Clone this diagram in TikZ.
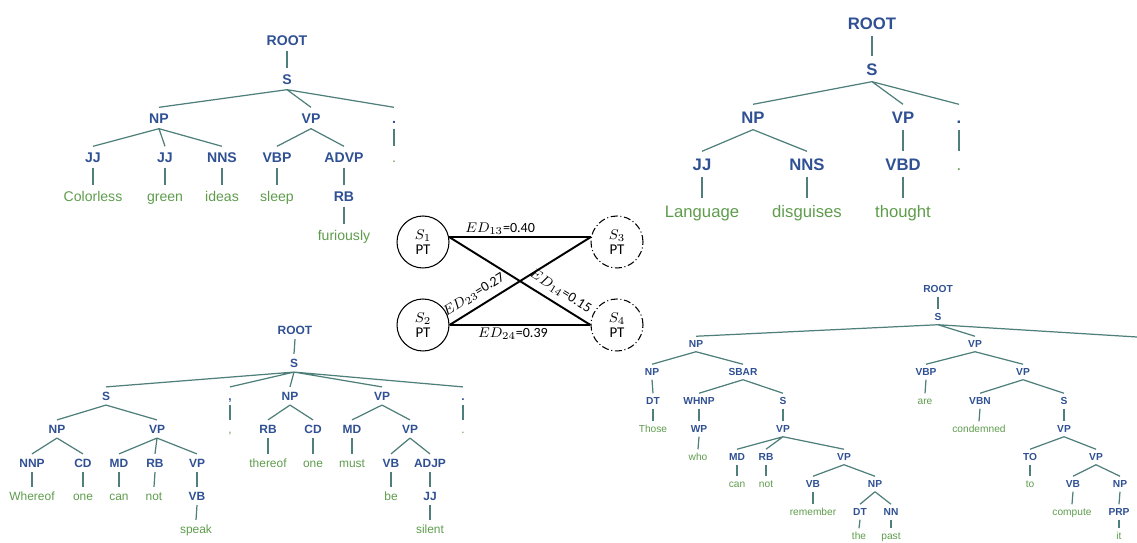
\documentclass[tikz,border=0pt]{standalone}
\usepackage{fontspec}
\setmainfont{Liberation Sans}
\newfontfamily\calfont{Carlito}
\definecolor{labblue}{HTML}{2F5093}
\definecolor{wordgreen}{HTML}{5E9C4C}
\definecolor{edgeteal}{HTML}{4F7F7B}
\def\tfs{8}

\begin{document}
\begin{tikzpicture}[
x=0.02cm, y=-0.02cm,
treenode/.style={
    inner sep=0pt, % No inner spacing
    text height={0.72*\tfs pt},
    text depth=0pt,
    outer sep={0.4*\tfs pt},
},
lab/.style={treenode, text=labblue, font=\bfseries\fontsize{\tfs}{\tfs}\selectfont},
wrd/.style={treenode, text=wordgreen, font=\fontsize{\tfs}{\tfs}\selectfont},
edge/.style={draw=edgeteal, line width=0.7pt},
ptnode/.style={
    circle,
    draw=black,
    line width=0.6pt,
    minimum size=1.04cm,
    inner sep=0pt,
    align=center,
    font=\calfont\fontsize{8.5}{8.5}\selectfont,
},
dashdot/.style={dash pattern=on 4pt off 1.5pt on 0.6pt off 1.5pt},
link/.style={black, line width=1.1pt},
edlabel/.style={font=\calfont\fontsize{8}{9}\selectfont, inner sep=1pt},
slopelabel/.style={edlabel, sloped, inner sep=3.5pt},
]
\useasboundingbox (0,0) rectangle (1137,543);

% top left tree
\def\tfs{8}
\node[lab] (tl-ROOT) at (287,40) {ROOT};
\node[lab] (tl-S) at (287,79) {S};
\node[lab] (tl-NP) at (159,118) {NP};
\node[lab] (tl-VP) at (311,118) {VP};
\node[lab] (tl-P) at (394,118) {.};
\node[lab] (tl-JJ1) at (93,157) {JJ};
\node[lab] (tl-JJ2) at (165,157) {JJ};
\node[lab] (tl-NNS) at (222,157) {NNS};
\node[lab] (tl-VBP) at (277,157) {VBP};
\node[lab] (tl-ADVP) at (344,157) {ADVP};
\node[wrd] (tl-w6) at (394,157) {.};
\node[wrd] (tl-w1) at (93,196) {Colorless};
\node[wrd] (tl-w2) at (165,196) {green};
\node[wrd] (tl-w3) at (222,196) {ideas};
\node[wrd] (tl-w4) at (277,196) {sleep};
\node[lab] (tl-RB) at (344,196) {RB};
\node[wrd] (tl-w5) at (344,235) {furiously};

\draw[edge] (tl-ROOT.south) -- (tl-S.north);
\draw[edge] (tl-S.south) -- (tl-NP.north) (tl-S.south) -- (tl-VP.north) (tl-S.south) -- (tl-P.north);
\draw[edge] (tl-NP.south) -- (tl-JJ1.north) (tl-NP.south) -- (tl-JJ2.north) (tl-NP.south) -- (tl-NNS.north);
\draw[edge] (tl-VP.south) -- (tl-VBP.north) (tl-VP.south) -- (tl-ADVP.north);
\draw[edge] (tl-P.south) -- (tl-w6.north);
\draw[edge] (tl-JJ1.south) -- (tl-w1.north);
\draw[edge] (tl-JJ2.south) -- (tl-w2.north);
\draw[edge] (tl-NNS.south) -- (tl-w3.north);
\draw[edge] (tl-VBP.south) -- (tl-w4.north);
\draw[edge] (tl-ADVP.south) -- (tl-RB.north);
\draw[edge] (tl-RB.south) -- (tl-w5.north);

% top right tree
\def\tfs{9.5}
\node[lab] (tr-ROOT) at (872,23) {ROOT};
\node[lab] (tr-S) at (872,69) {S};
\node[lab] (tr-NP) at (753,117) {NP};
\node[lab] (tr-VP) at (903,117) {VP};
\node[lab] (tr-P) at (959,117) {.};
\node[lab] (tr-JJ) at (702,164) {JJ};
\node[lab] (tr-NNS) at (807,164) {NNS};
\node[lab] (tr-VBD) at (903,164) {VBD};
\node[wrd] (tr-w4) at (959,164) {.};
\node[wrd] (tr-w1) at (702,211) {Language};
\node[wrd] (tr-w2) at (807,211) {disguises};
\node[wrd] (tr-w3) at (903,211) {thought};

\draw[edge] (tr-ROOT.south) -- (tr-S.north);
\draw[edge] (tr-S.south) -- (tr-NP.north) (tr-S.south) -- (tr-VP.north) (tr-S.south) -- (tr-P.north);
\draw[edge] (tr-NP.south) -- (tr-JJ.north) (tr-NP.south) -- (tr-NNS.north);
\draw[edge] (tr-VP.south) -- (tr-VBD.north);
\draw[edge] (tr-P.south) -- (tr-w4.north);
\draw[edge] (tr-JJ.south) -- (tr-w1.north);
\draw[edge] (tr-NNS.south) -- (tr-w2.north);
\draw[edge] (tr-VBD.south) -- (tr-w3.north);

% bottom left tree
\def\tfs{6.8}
\node[lab] (bl-ROOT) at (295,330) {ROOT};
\node[lab] (bl-S) at (294,363) {S};
\node[lab] (bl-S2) at (106,396) {S};
\node[lab] (bl-C) at (230,396) {,};
\node[lab] (bl-NP) at (290,396) {NP};
\node[lab] (bl-VP) at (382,396) {VP};
\node[lab] (bl-P) at (463,396) {.};
\node[lab] (bl-NP1) at (57,429) {NP};
\node[lab] (bl-VP1) at (157,429) {VP};
\node[wrd] (bl-wc) at (230,429) {,};
\node[lab] (bl-RB2) at (268,429) {RB};
\node[lab] (bl-CD2) at (313,429) {CD};
\node[lab] (bl-MD2) at (352,429) {MD};
\node[lab] (bl-VP3) at (410,429) {VP};
\node[wrd] (bl-wp) at (463,429) {.};
\node[lab] (bl-NNP) at (32,463) {NNP};
\node[lab] (bl-CD) at (83,463) {CD};
\node[lab] (bl-MD) at (119,463) {MD};
\node[lab] (bl-RB) at (155,463) {RB};
\node[lab] (bl-VP2) at (197,463) {VP};
\node[wrd] (bl-w6) at (268,463) {thereof};
\node[wrd] (bl-w7) at (313,463) {one};
\node[wrd] (bl-w8) at (352,463) {must};
\node[lab] (bl-VB2) at (391,463) {VB};
\node[lab] (bl-ADJP) at (430,463) {ADJP};
\node[wrd] (bl-w1) at (32,496) {Whereof};
\node[wrd] (bl-w2) at (83,496) {one};
\node[wrd] (bl-w3) at (119,496) {can};
\node[wrd] (bl-w4) at (154,496) {not};
\node[lab] (bl-VB) at (197,496) {VB};
\node[wrd] (bl-w9) at (391,496) {be};
\node[lab] (bl-JJ) at (430,496) {JJ};
\node[wrd] (bl-w5) at (196,529) {speak};
\node[wrd] (bl-w10) at (430,529) {silent};

\draw[edge] (bl-ROOT.south) -- (bl-S.north);
\draw[edge] (bl-S.south) -- (bl-S2.north) (bl-S.south) -- (bl-C.north) (bl-S.south) -- (bl-NP.north) (bl-S.south) -- (bl-VP.north) (bl-S.south) -- (bl-P.north);
\draw[edge] (bl-S2.south) -- (bl-NP1.north) (bl-S2.south) -- (bl-VP1.north);
\draw[edge] (bl-NP1.south) -- (bl-NNP.north) (bl-NP1.south) -- (bl-CD.north);
\draw[edge] (bl-VP1.south) -- (bl-MD.north) (bl-VP1.south) -- (bl-RB.north) (bl-VP1.south) -- (bl-VP2.north);
\draw[edge] (bl-NNP.south) -- (bl-w1.north);
\draw[edge] (bl-CD.south) -- (bl-w2.north);
\draw[edge] (bl-MD.south) -- (bl-w3.north);
\draw[edge] (bl-RB.south) -- (bl-w4.north);
\draw[edge] (bl-VP2.south) -- (bl-VB.north);
\draw[edge] (bl-VB.south) -- (bl-w5.north);
\draw[edge] (bl-C.south) -- (bl-wc.north);
\draw[edge] (bl-NP.south) -- (bl-RB2.north) (bl-NP.south) -- (bl-CD2.north);
\draw[edge] (bl-RB2.south) -- (bl-w6.north);
\draw[edge] (bl-CD2.south) -- (bl-w7.north);
\draw[edge] (bl-VP.south) -- (bl-MD2.north) (bl-VP.south) -- (bl-VP3.north);
\draw[edge] (bl-MD2.south) -- (bl-w8.north);
\draw[edge] (bl-VP3.south) -- (bl-VB2.north) (bl-VP3.south) -- (bl-ADJP.north);
\draw[edge] (bl-VB2.south) -- (bl-w9.north);
\draw[edge] (bl-ADJP.south) -- (bl-JJ.north);
\draw[edge] (bl-JJ.south) -- (bl-w10.north);
\draw[edge] (bl-P.south) -- (bl-wp.north);

% bottom right tree
\def\tfs{5.8}
\node[lab] (br-ROOT) at (938,289) {ROOT};
\node[lab] (br-S) at (938,317) {S};
\coordinate (br-far) at (1137,337);
\node[lab] (br-NP) at (696,344) {NP};
\node[lab] (br-VP) at (975,344) {VP};
\node[lab] (br-NP1) at (652,372) {NP};
\node[lab] (br-SBAR) at (743,372) {SBAR};
\node[lab] (br-VBP) at (926,372) {VBP};
\node[lab] (br-VP1) at (1023,372) {VP};
\node[lab] (br-DT) at (653,401) {DT};
\node[lab] (br-WHNP) at (699,401) {WHNP};
\node[lab] (br-S1) at (783,401) {S};
\node[wrd] (br-w7) at (925,401) {are};
\node[lab] (br-VBN) at (980,401) {VBN};
\node[lab] (br-S2) at (1064,401) {S};
\node[wrd] (br-w1) at (653,429) {Those};
\node[lab] (br-WP) at (699,429) {WP};
\node[lab] (br-VP2) at (783,429) {VP};
\node[wrd] (br-w8) at (979,429) {condemned};
\node[lab] (br-VP4) at (1064,429) {VP};
\node[wrd] (br-w2) at (698,457) {who};
\node[lab] (br-MD) at (737,457) {MD};
\node[lab] (br-RB) at (766,457) {RB};
\node[lab] (br-VP3) at (844,457) {VP};
\node[lab] (br-TO) at (1030,457) {TO};
\node[lab] (br-VP5) at (1096,457) {VP};
\node[wrd] (br-w3) at (737,484) {can};
\node[wrd] (br-w4) at (766,484) {not};
\node[lab] (br-VB) at (813,484) {VB};
\node[lab] (br-NP2) at (875,484) {NP};
\node[wrd] (br-w9) at (1030,484) {to};
\node[lab] (br-VB2) at (1073,484) {VB};
\node[lab] (br-NP3) at (1120,484) {NP};
\node[wrd] (br-w5) at (813,512) {remember};
\node[lab] (br-DT2) at (860,512) {DT};
\node[lab] (br-NN) at (891,512) {NN};
\node[wrd] (br-w10) at (1072,512) {compute};
\node[lab] (br-PRP) at (1119,512) {PRP};
\node[wrd] (br-w6a) at (859,536) {the};
\node[wrd] (br-w6b) at (891,536) {past};
\node[wrd] (br-w11) at (1119,536) {it};

\draw[edge] (br-ROOT.south) -- (br-S.north);
\draw[edge] (br-S.south) -- (br-NP.north) (br-S.south) -- (br-VP.north) (br-S.south) -- (br-far);
\draw[edge] (br-NP.south) -- (br-NP1.north) (br-NP.south) -- (br-SBAR.north);
\draw[edge] (br-NP1.south) -- (br-DT.north);
\draw[edge] (br-DT.south) -- (br-w1.north);
\draw[edge] (br-SBAR.south) -- (br-WHNP.north) (br-SBAR.south) -- (br-S1.north);
\draw[edge] (br-WHNP.south) -- (br-WP.north);
\draw[edge] (br-WP.south) -- (br-w2.north);
\draw[edge] (br-S1.south) -- (br-VP2.north);
\draw[edge] (br-VP2.south) -- (br-MD.north) (br-VP2.south) -- (br-RB.north) (br-VP2.south) -- (br-VP3.north);
\draw[edge] (br-MD.south) -- (br-w3.north);
\draw[edge] (br-RB.south) -- (br-w4.north);
\draw[edge] (br-VP3.south) -- (br-VB.north) (br-VP3.south) -- (br-NP2.north);
\draw[edge] (br-VB.south) -- (br-w5.north);
\draw[edge] (br-NP2.south) -- (br-DT2.north) (br-NP2.south) -- (br-NN.north);
\draw[edge] (br-DT2.south) -- (br-w6a.north);
\draw[edge] (br-NN.south) -- (br-w6b.north);
\draw[edge] (br-VP.south) -- (br-VBP.north) (br-VP.south) -- (br-VP1.north);
\draw[edge] (br-VBP.south) -- (br-w7.north);
\draw[edge] (br-VP1.south) -- (br-VBN.north) (br-VP1.south) -- (br-S2.north);
\draw[edge] (br-VBN.south) -- (br-w8.north);
\draw[edge] (br-S2.south) -- (br-VP4.north);
\draw[edge] (br-VP4.south) -- (br-TO.north) (br-VP4.south) -- (br-VP5.north);
\draw[edge] (br-TO.south) -- (br-w9.north);
\draw[edge] (br-VP5.south) -- (br-VB2.north) (br-VP5.south) -- (br-NP3.north);
\draw[edge] (br-VB2.south) -- (br-w10.north);
\draw[edge] (br-NP3.south) -- (br-PRP.north);
\draw[edge] (br-PRP.south) -- (br-w11.north);

% distances between the parse trees
\node[ptnode] (S1) at (423,242) {$S_1$\\PT};
\node[ptnode] (S2) at (423,325) {$S_2$\\PT};
\node[ptnode, dashdot] (S3) at (617,242) {$S_3$\\PT};
\node[ptnode, dashdot] (S4) at (617,325) {$S_4$\\PT};

\draw[link] (S1.11) -- node[edlabel, above, pos=0.36] (ed13) {$ED_{13}$=0.40} (S3.169);
\draw[link] (S1.11) -- node[slopelabel, above, pos=0.74] (ed14) {$ED_{14}$=0.15} (S4.west);
\draw[link] (S2.east) -- node[slopelabel, above, pos=0.22] (ed23) {$ED_{23}$=0.27} (S3.169);
\draw[link] (S2.east) -- node[edlabel, below, pos=0.45] (ed24) {$ED_{24}$=0.39} (S4.west);

\end{tikzpicture}
\end{document}
